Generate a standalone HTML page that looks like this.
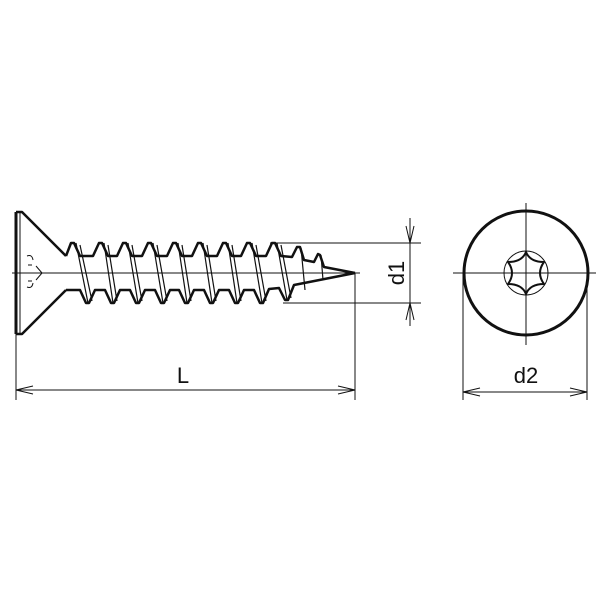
<!DOCTYPE html>
<html><head><style>body{margin:0;background:#fff}svg{display:block}</style></head><body>
<svg width="600" height="600" viewBox="0 0 600 600" xmlns="http://www.w3.org/2000/svg" font-family="Liberation Sans, sans-serif">
<g fill="none" stroke="#111" stroke-linejoin="round">
<line x1="16" y1="212" x2="16" y2="334" stroke-width="3"/>
<line x1="20" y1="212" x2="20" y2="334" stroke-width="1"/>
<polyline points="16,212 22,212 66,256" stroke-width="2.5"/>
<polyline points="16,334 22,334 66,290" stroke-width="2.5"/>
<polyline stroke-width="2.5" points="66,256 71,243 74,243 80,256 93,256 99,243 102,243 108,256 117,256 123,243 126,243 132,256 142,256 148,243 151,243 157,256 167,256 173,243 176,243 182,256 192,256 198,243 201,243 207,256 217,256 223,243 226,243 232,256 241,256 247,243 250,243 256,256 266,256 272,243 275,243 281,256 292,257 297,247 300,247 304,260 314,262 318,254 320,255 324,267 355,273"/>
<polyline stroke-width="2.5" points="66,290 80,290 86,303 89,303 95,290 105,290 111,303 114,303 120,290 130,290 136,303 139,303 145,290 155,290 161,303 164,303 170,290 179,290 185,303 188,303 194,290 204,290 210,303 213,303 219,290 229,290 235,303 238,303 244,290 254,290 260,303 263,303 269,289 279,288 285,300 288,300 294,285 355,273"/>
<g stroke-width="1.2">
<path d="M76,243 L88,303 M80,245 L92,301 M104,243 L113,303 M108,245 L117,301 M128,243 L138,303 M132,245 L142,301 M153,243 L163,303 M157,245 L167,301 M178,243 L187,303 M182,245 L191,301 M203,243 L212,303 M207,245 L216,301 M228,243 L237,303 M232,245 L241,301 M252,243 L262,303 M256,245 L266,301 M277,243 L287,300 M281,245 L291,298 M301,248 L305,290 M321,255 L323,280"/>
</g>
<g stroke-width="1"><path d="M27,256 q5,-2 6,4 M27,287 q5,2 6,-4 M36,266 l6,7 l-6,7 M28,265 h4 M28,281 h4"/></g>
<g stroke-width="1">
<line x1="12" y1="273" x2="360" y2="273"/>
<line x1="270" y1="243" x2="421" y2="243"/>
<line x1="283" y1="303" x2="421" y2="303"/>
<line x1="410" y1="218" x2="410" y2="326"/>
<line x1="355" y1="273" x2="355" y2="400"/>
<line x1="16" y1="334" x2="16" y2="400"/>
<line x1="16" y1="390" x2="355" y2="390"/>
<polyline points="406,226 410,243 414,226"/>
<polyline points="406,320 410,303 414,320"/>
<polyline points="33,386 16,390 33,394"/>
<polyline points="338,386 355,390 338,394"/>
<line x1="453" y1="273" x2="596" y2="273"/>
<line x1="526" y1="203" x2="526" y2="345"/>
<circle cx="526" cy="273" r="22"/>
<line x1="463" y1="273" x2="463" y2="400"/>
<line x1="587" y1="273" x2="587" y2="400"/>
<line x1="463" y1="392" x2="587" y2="392"/>
<polyline points="480,388 463,392 480,396"/>
<polyline points="570,388 587,392 570,396"/>
<line x1="522" y1="273" x2="530" y2="273"/>
<line x1="526" y1="269" x2="526" y2="277"/>
</g>
<circle cx="526" cy="273" r="62" stroke-width="3"/>
<path stroke-width="2" d="M526,252 Q530,262 544,262 Q536,273 544,284 Q530,284 526,294 Q522,284 508,284 Q516,273 508,262 Q522,262 526,252 Z"/>
</g>
<g fill="#111" font-size="22">
<text x="183" y="383" text-anchor="middle">L</text>
<text x="526" y="383" text-anchor="middle">d2</text>
<text transform="translate(404,273) rotate(-90)" text-anchor="middle">d1</text>
</g>
</svg>
</body></html>
